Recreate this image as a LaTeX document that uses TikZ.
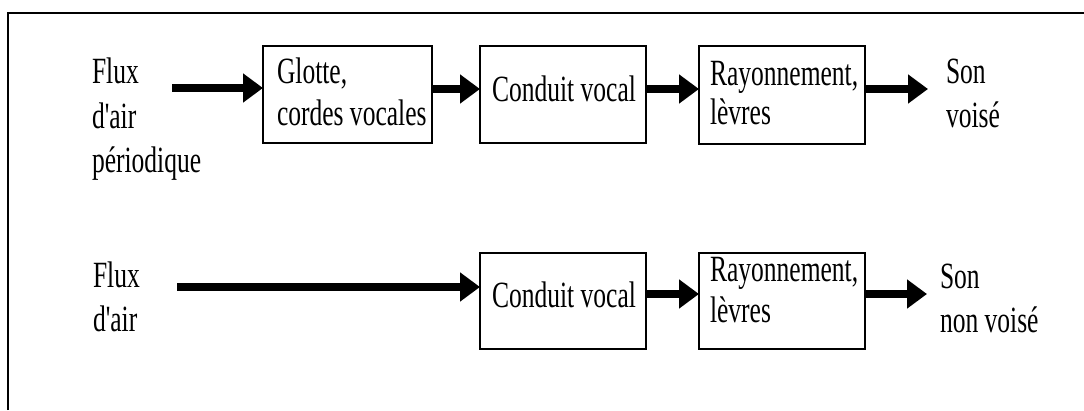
\documentclass[tikz,border=0pt]{standalone}
\usepackage{fontspec}
\setmainfont{Liberation Serif}[FakeStretch=0.69, Ligatures=TeXOff]
\usetikzlibrary{arrows.meta}

\tikzset{
  blockbox/.style={draw, line width=1.5pt, inner sep=0pt, outer sep=0pt},
  lbl/.style={anchor=base west, inner sep=0pt, outer sep=0pt,
              font=\fontsize{37}{44}\selectfont},
  flow/.style={line width=8pt, -{Triangle[length=20pt,width=28pt]}},
  frame/.style={line width=2pt}
}

\begin{document}
\begin{tikzpicture}[x=1pt, y=1pt]
  \useasboundingbox (0,0) rectangle (1084,-410);

  % open frame: top and left edges
  \coordinate (fb) at (7.5,-410);
  \coordinate (fc) at (7.5,-13);
  \coordinate (fr) at (1084,-13);
  \draw[frame] (fb) -- (fc) -- (fr);

  % ---- voiced sound chain ----
  \node[blockbox, minimum width=169pt, minimum height=97pt, anchor=north west] (glot) at (263,-46) {};
  \node[blockbox, minimum width=166pt, minimum height=97pt, anchor=north west] (condA) at (480,-46) {};
  \node[blockbox, minimum width=166pt, minimum height=98pt, anchor=north west] (rayA) at (699,-46) {};

  \node[lbl] (fluxA) at (92,-83) {Flux};
  \node[lbl] (airA) at (92,-128) {d'air};
  \node[lbl] (perA) at (92,-172) {périodique};
  \node[lbl] (glotA) at (277,-83) {Glotte,};
  \node[lbl] (cordA) at (277,-125) {cordes vocales};
  \node[lbl] (condtA) at (492,-101) {Conduit vocal};
  \node[lbl] (rayt1A) at (710,-85) {Rayonnement,};
  \node[lbl] (rayt2A) at (710,-124) {lèvres};
  \node[lbl] (sonA) at (946,-83) {Son};
  \node[lbl] (voiA) at (946,-127) {voisé};

  \coordinate (inA) at (172,-88);
  \coordinate (rowA) at (0,-89);
  \coordinate (outA) at (928,-89);
  \draw[flow] (inA) -- (glot.west |- inA);
  \draw[flow] (glot.east |- rowA) -- (condA.west |- rowA);
  \draw[flow] (condA.east |- rowA) -- (rayA.west |- rowA);
  \draw[flow] (rayA.east |- rowA) -- (outA);

  % ---- unvoiced sound chain ----
  \node[blockbox, minimum width=166pt, minimum height=96pt, anchor=north west] (condB) at (480,-253) {};
  \node[blockbox, minimum width=166pt, minimum height=96pt, anchor=north west] (rayB) at (699,-253) {};

  \node[lbl] (fluxB) at (93,-287) {Flux};
  \node[lbl] (airB) at (93,-331) {d'air};
  \node[lbl] (condtB) at (492,-307) {Conduit vocal};
  \node[lbl] (rayt1B) at (710,-281) {Rayonnement,};
  \node[lbl] (rayt2B) at (710,-322) {lèvres};
  \node[lbl] (sonB) at (940,-288) {Son};
  \node[lbl] (nvoiB) at (940,-332) {non voisé};

  \coordinate (inB) at (177,-287);
  \coordinate (rowB) at (0,-294);
  \coordinate (outB) at (927,-294);
  \draw[flow] (inB) -- (condB.west |- inB);
  \draw[flow] (condB.east |- rowB) -- (rayB.west |- rowB);
  \draw[flow] (rayB.east |- rowB) -- (outB);
\end{tikzpicture}
\end{document}
